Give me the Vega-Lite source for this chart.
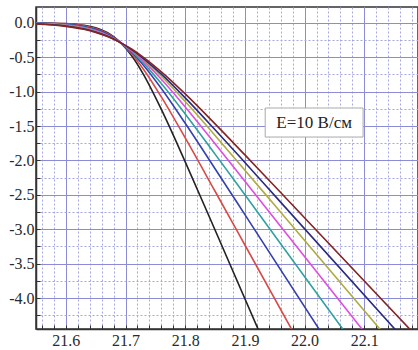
{
  "$schema": "https://vega.github.io/schema/vega-lite/v6.json",
  "width": 382,
  "height": 322,
  "autosize": {"type": "none"},
  "padding": {"left": 36, "top": 7, "right": 0, "bottom": 21},
  "background": "white",
  "config": {
    "view": {"stroke": "#333333", "strokeWidth": 1.5},
    "axis": {"labelFont": "Liberation Serif", "labelFontSize": 16, "labelColor": "#2a2a2a", "domainColor": "#333333", "domainWidth": 1.5, "tickColor": "#333333"}
  },
  "datasets": {
    "curves": [
      {"s":"c1","x":21.55,"y":-0.002},{"s":"c1","x":21.60,"y":-0.011},{"s":"c1","x":21.63,"y":-0.035},{"s":"c1","x":21.65,"y":-0.072},{"s":"c1","x":21.67,"y":-0.145},{"s":"c1","x":21.69,"y":-0.274},{"s":"c1","x":21.71,"y":-0.476},{"s":"c1","x":21.73,"y":-0.750},{"s":"c1","x":21.76,"y":-1.259},{"s":"c1","x":21.80,"y":-2.021},{"s":"c1","x":21.85,"y":-3.011},{"s":"c1","x":21.9225,"y":-4.46},
      {"s":"c2","x":21.55,"y":-0.003},{"s":"c2","x":21.60,"y":-0.015},{"s":"c2","x":21.63,"y":-0.043},{"s":"c2","x":21.65,"y":-0.084},{"s":"c2","x":21.67,"y":-0.156},{"s":"c2","x":21.69,"y":-0.276},{"s":"c2","x":21.71,"y":-0.450},{"s":"c2","x":21.73,"y":-0.674},{"s":"c2","x":21.76,"y":-1.077},{"s":"c2","x":21.80,"y":-1.673},{"s":"c2","x":21.85,"y":-2.448},{"s":"c2","x":21.90,"y":-3.229},{"s":"c2","x":21.98,"y":-4.481},
      {"s":"c3","x":21.55,"y":-0.004},{"s":"c3","x":21.60,"y":-0.021},{"s":"c3","x":21.63,"y":-0.053},{"s":"c3","x":21.65,"y":-0.095},{"s":"c3","x":21.67,"y":-0.166},{"s":"c3","x":21.69,"y":-0.275},{"s":"c3","x":21.71,"y":-0.426},{"s":"c3","x":21.73,"y":-0.616},{"s":"c3","x":21.76,"y":-0.955},{"s":"c3","x":21.80,"y":-1.460},{"s":"c3","x":21.85,"y":-2.120},{"s":"c3","x":21.90,"y":-2.787},{"s":"c3","x":22.025,"y":-4.462},
      {"s":"c4","x":21.55,"y":-0.007},{"s":"c4","x":21.60,"y":-0.028},{"s":"c4","x":21.63,"y":-0.064},{"s":"c4","x":21.65,"y":-0.109},{"s":"c4","x":21.67,"y":-0.179},{"s":"c4","x":21.69,"y":-0.281},{"s":"c4","x":21.71,"y":-0.417},{"s":"c4","x":21.73,"y":-0.585},{"s":"c4","x":21.76,"y":-0.882},{"s":"c4","x":21.80,"y":-1.324},{"s":"c4","x":21.85,"y":-1.908},{"s":"c4","x":21.90,"y":-2.499},{"s":"c4","x":22.065,"y":-4.463},
      {"s":"c5","x":21.55,"y":-0.009},{"s":"c5","x":21.60,"y":-0.034},{"s":"c5","x":21.63,"y":-0.073},{"s":"c5","x":21.65,"y":-0.117},{"s":"c5","x":21.67,"y":-0.185},{"s":"c5","x":21.69,"y":-0.279},{"s":"c5","x":21.71,"y":-0.403},{"s":"c5","x":21.73,"y":-0.554},{"s":"c5","x":21.76,"y":-0.821},{"s":"c5","x":21.80,"y":-1.223},{"s":"c5","x":21.85,"y":-1.757},{"s":"c5","x":21.90,"y":-2.301},{"s":"c5","x":22.097,"y":-4.460},
      {"s":"c6","x":21.55,"y":-0.012},{"s":"c6","x":21.60,"y":-0.040},{"s":"c6","x":21.63,"y":-0.081},{"s":"c6","x":21.65,"y":-0.126},{"s":"c6","x":21.67,"y":-0.192},{"s":"c6","x":21.69,"y":-0.280},{"s":"c6","x":21.71,"y":-0.394},{"s":"c6","x":21.73,"y":-0.532},{"s":"c6","x":21.76,"y":-0.776},{"s":"c6","x":21.80,"y":-1.144},{"s":"c6","x":21.85,"y":-1.637},{"s":"c6","x":21.90,"y":-2.142},{"s":"c6","x":21.95,"y":-2.652},{"s":"c6","x":22.127,"y":-4.460},
      {"s":"c7","x":21.55,"y":-0.014},{"s":"c7","x":21.60,"y":-0.045},{"s":"c7","x":21.63,"y":-0.087},{"s":"c7","x":21.65,"y":-0.133},{"s":"c7","x":21.67,"y":-0.196},{"s":"c7","x":21.69,"y":-0.281},{"s":"c7","x":21.71,"y":-0.390},{"s":"c7","x":21.73,"y":-0.519},{"s":"c7","x":21.76,"y":-0.746},{"s":"c7","x":21.80,"y":-1.091},{"s":"c7","x":21.85,"y":-1.554},{"s":"c7","x":21.90,"y":-2.030},{"s":"c7","x":21.95,"y":-2.511},{"s":"c7","x":22.152,"y":-4.459},
      {"s":"c8","x":21.55,"y":-0.018},{"s":"c8","x":21.60,"y":-0.051},{"s":"c8","x":21.63,"y":-0.094},{"s":"c8","x":21.65,"y":-0.139},{"s":"c8","x":21.67,"y":-0.200},{"s":"c8","x":21.69,"y":-0.281},{"s":"c8","x":21.71,"y":-0.381},{"s":"c8","x":21.73,"y":-0.501},{"s":"c8","x":21.76,"y":-0.712},{"s":"c8","x":21.80,"y":-1.033},{"s":"c8","x":21.85,"y":-1.469},{"s":"c8","x":21.90,"y":-1.920},{"s":"c8","x":21.95,"y":-2.376},{"s":"c8","x":22.177,"y":-4.459}
    ],
    "note": [{"label": "E=10 В/см"}]
  },
  "layer": [
    {
      "data": {"name": "curves"},
      "mark": {"type": "line", "strokeWidth": 1.6, "interpolate": "monotone", "clip": true},
      "encoding": {
        "x": {
          "field": "x", "type": "quantitative", "title": null,
          "scale": {"domain": [21.55, 22.19], "nice": false, "zero": false},
          "axis": {
            "orient": "bottom",
            "values": [21.56,21.58,21.6,21.62,21.64,21.66,21.68,21.7,21.72,21.74,21.76,21.78,21.8,21.82,21.84,21.86,21.88,21.9,21.92,21.94,21.96,21.98,22.0,22.02,22.04,22.06,22.08,22.1,22.12,22.14,22.16,22.18],
            "grid": true,
            "gridColor": "#a4a8de",
            "gridDash": [2, 2],
            "labelExpr": "substring(format(datum.value,'.2f'), 4, 5) == '0' ? format(datum.value,'.1f') : ''",
            "labelOverlap": false,
            "labelFlush": false,
            "labelPadding": 7,
            "tickSize": -4
          }
        },
        "y": {
          "field": "y", "type": "quantitative", "title": null,
          "scale": {"domain": [-4.45, 0.23], "nice": false, "zero": false},
          "axis": {
            "orient": "left",
            "values": [-4.25,-4.0,-3.75,-3.5,-3.25,-3.0,-2.75,-2.5,-2.25,-2.0,-1.75,-1.5,-1.25,-1.0,-0.75,-0.5,-0.25,0.0],
            "grid": true,
            "gridColor": "#a4a8de",
            "gridDash": [2, 2],
            "labelExpr": "substring(format(datum.value,'.2f'), length(format(datum.value,'.2f'))-1, length(format(datum.value,'.2f'))) == '0' ? replace(format(datum.value,'.1f'),'\u2212','-') : ''",
            "labelOverlap": false,
            "labelFlush": false,
            "labelPadding": 6,
            "tickSize": -4
          }
        },
        "color": {
          "field": "s", "type": "nominal", "legend": null,
          "scale": {"domain": ["c1","c2","c3","c4","c5","c6","c7","c8"], "range": ["#222222","#d84a48","#3540b0","#2fa0a0","#e04ce0","#b0aa40","#2a2a80","#842424"]}
        }
      }
    },
    {
      "data": {"name": "note"},
      "mark": {"type": "rect", "fill": "white", "stroke": "#aaaaaa", "strokeWidth": 1},
      "encoding": {
        "x": {"datum": 21.934, "type": "quantitative", "title": null,
          "axis": {"orient": "top", "values": [21.6,21.7,21.8,21.9,22.0,22.1], "grid": true, "gridColor": "#8c8cd6", "gridWidth": 1, "labels": false, "ticks": false, "domain": false}},
        "x2": {"datum": 22.098},
        "y": {"datum": -1.238, "type": "quantitative", "title": null,
          "axis": {"orient": "right", "values": [-4.0,-3.5,-3.0,-2.5,-2.0,-1.5,-1.0,-0.5,0.0], "grid": true, "gridColor": "#8c8cd6", "gridWidth": 1, "labels": false, "ticks": false, "domain": false}},
        "y2": {"datum": -1.66}
      }
    },
    {
      "data": {"name": "note"},
      "mark": {"type": "text", "font": "Liberation Serif", "fontSize": 17, "color": "#222222", "align": "center", "baseline": "middle"},
      "encoding": {
        "x": {"datum": 22.016, "type": "quantitative", "axis": null},
        "y": {"datum": -1.449, "type": "quantitative", "axis": null},
        "text": {"field": "label"}
      }
    }
  ],
  "resolve": {"axis": {"x": "independent", "y": "independent"}}
}
